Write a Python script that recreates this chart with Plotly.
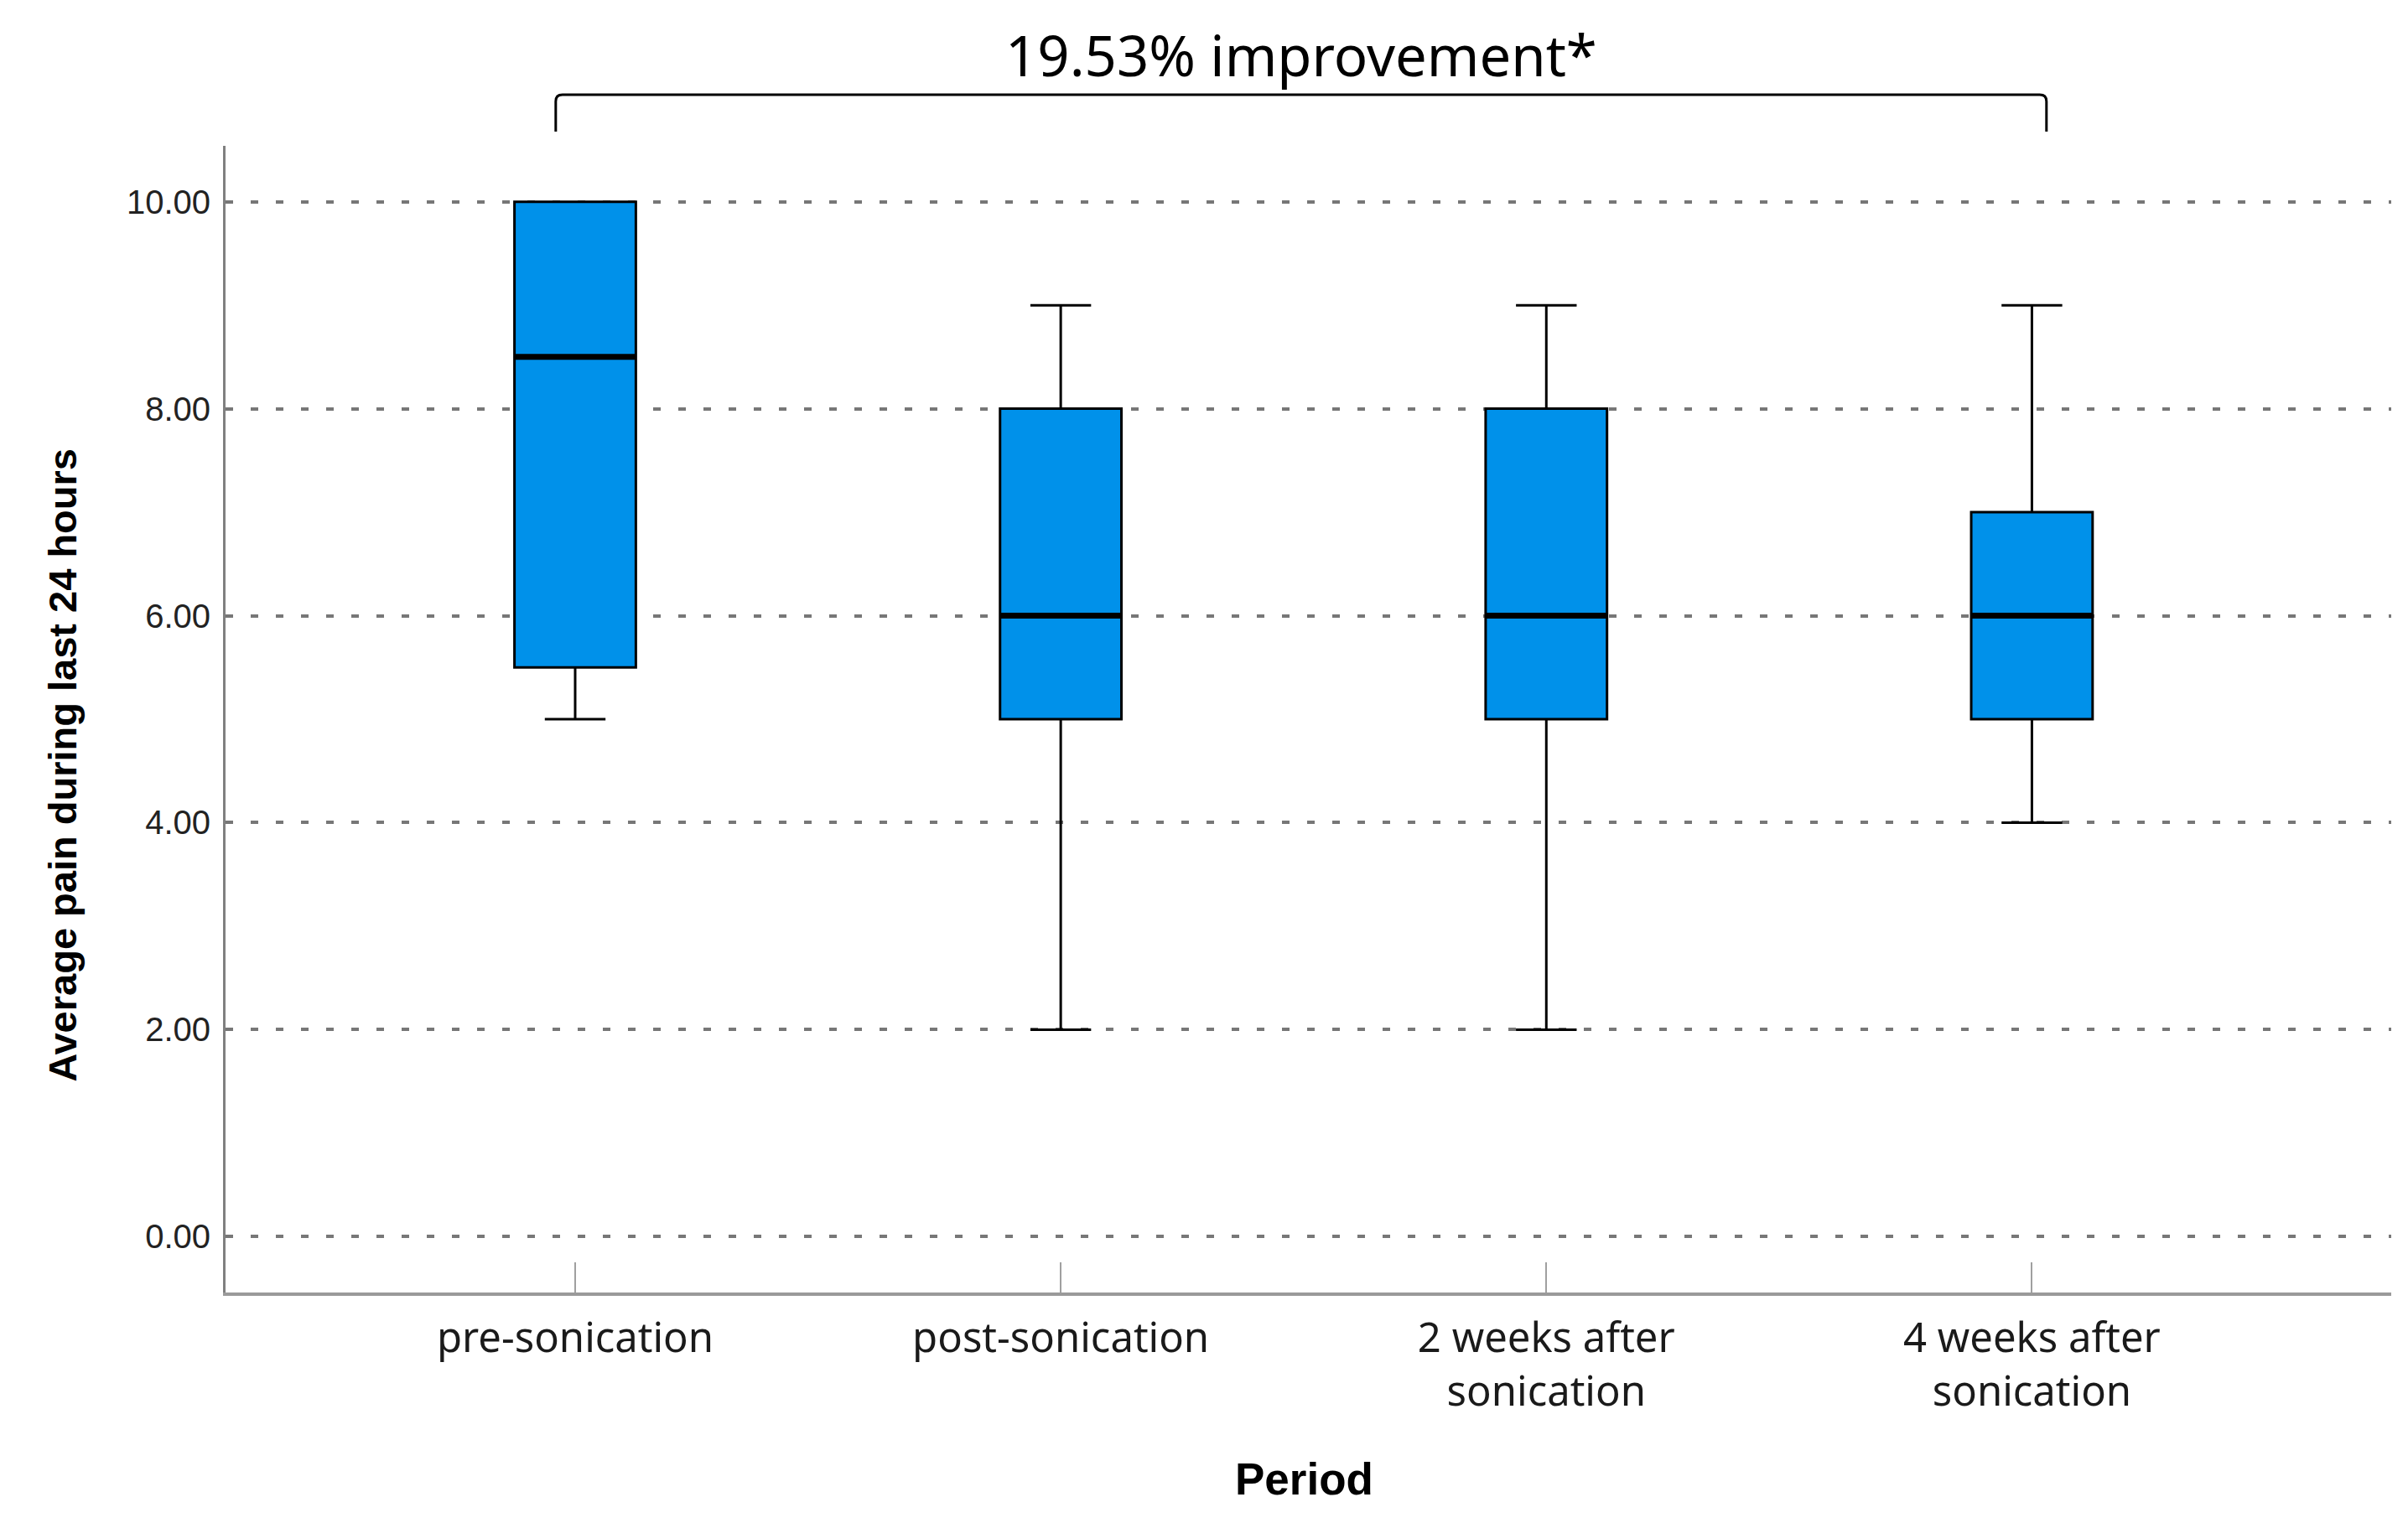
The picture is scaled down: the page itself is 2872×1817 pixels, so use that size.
import plotly.graph_objects as go

# ---- data ----
categories = ["pre-sonication", "post-sonication", "2 weeks after<br>sonication", "4 weeks after<br>sonication"]
lower_whisker = [5.0, 2.0, 2.0, 4.0]
q1_values = [5.5, 5.0, 5.0, 5.0]
median_values = [8.5, 6.0, 6.0, 6.0]
q3_values = [10.0, 8.0, 8.0, 7.0]
upper_whisker = [10.0, 9.0, 9.0, 9.0]
y_ticks = [0, 2, 4, 6, 8, 10]
annotation_text = "19.53% improvement*"
bracket_from, bracket_to = 0, 3  # category indices spanned by the bracket

# ---- style ----
BOX_W = 0.25
X_RANGE = [-0.72, 3.74]
Y_RANGE = [-0.54, 10.54]
BLUE = "#0091EA"

positions = list(range(len(categories)))

fig = go.Figure()
fig.add_trace(go.Box(
    x=positions,
    q1=q1_values, median=median_values, q3=q3_values,
    lowerfence=lower_whisker, upperfence=upper_whisker,
    width=BOX_W, whiskerwidth=0.5,
    fillcolor=BLUE, line=dict(color="black", width=3),
    boxpoints=False, showlegend=False, hoverinfo="skip",
))
# thick median bars
for p, m in zip(positions, median_values):
    fig.add_trace(go.Scatter(
        x=[p - BOX_W / 2, p + BOX_W / 2], y=[m, m], mode="lines",
        line=dict(color="black", width=7), showlegend=False, hoverinfo="skip",
    ))

def xp(v):
    return (v - X_RANGE[0]) / (X_RANGE[1] - X_RANGE[0])

# bracket above plot (paper coords)
xl, xr = xp(bracket_from - 0.04), xp(bracket_to + 0.03)
yt, yb = 1.0446, 1.0124
rx, ry = 0.0031, 0.0058
path = (f"M {xl},{yb} L {xl},{yt - ry} Q {xl},{yt} {xl + rx},{yt} "
        f"L {xr - rx},{yt} Q {xr},{yt} {xr},{yt - ry} L {xr},{yb}")
fig.add_shape(type="path", path=path, xref="paper", yref="paper",
              line=dict(color="black", width=3))

fig.add_annotation(text=annotation_text, x=(xl + xr) / 2, y=1.0797,
                   xref="paper", yref="paper", showarrow=False,
                   xanchor="center", yanchor="middle",
                   font=dict(family="Noto Sans", size=67, color="black"))
fig.add_annotation(text="<b>Average pain during last 24 hours</b>", x=-0.0751, y=0.46,
                   xref="paper", yref="paper", showarrow=False, textangle=-90,
                   xanchor="center", yanchor="middle",
                   font=dict(family="Liberation Sans", size=47, color="black"))
fig.add_annotation(text="<b>Period</b>", x=0.498, y=-0.163,
                   xref="paper", yref="paper", showarrow=False,
                   xanchor="center", yanchor="middle",
                   font=dict(family="Liberation Sans", size=53, color="black"))

fig.update_xaxes(
    range=X_RANGE, tickmode="array", tickvals=positions, ticktext=categories,
    showgrid=False, zeroline=False,
    showline=True, linecolor="#9a9a9a", linewidth=4,
    ticks="inside", ticklen=36, tickwidth=2, tickcolor="#a0a0a0",
    ticklabelstandoff=8,
    tickfont=dict(family="Noto Sans", size=49, color="#1a1a1a"),
)
fig.update_yaxes(
    range=Y_RANGE, tickmode="array", tickvals=y_ticks, tickformat=".2f",
    showgrid=True, gridcolor="#777777", gridwidth=4, griddash="9px,21px",
    zeroline=False, showline=True, linecolor="#808080", linewidth=3,
    ticks="", ticklabelstandoff=7,
    tickfont=dict(family="Liberation Sans", size=40, color="#222222"),
)
fig.update_layout(
    width=2856, height=1801,
    margin=dict(l=261, r=12, t=166, b=267),
    paper_bgcolor="white", plot_bgcolor="white",
    showlegend=False,
)
fig.write_html("out.html")
